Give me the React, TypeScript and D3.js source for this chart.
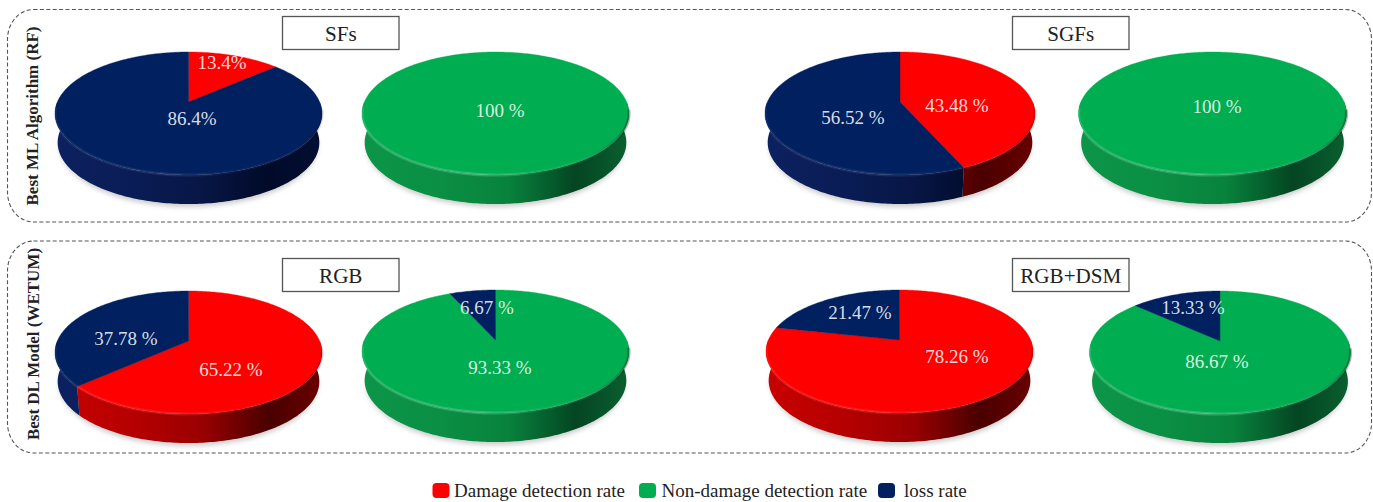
import React from "react";
import * as d3 from "d3";

// ---- values ----
const panelNames = ["SFs", "SGFs", "RGB", "RGB+DSM"];
const damageRates = [13.4, 43.48, 65.22, 78.26];
const damageLoss = [86.4, 56.52, 37.78, 21.47];
const nonDamageRates = [100, 100, 93.33, 86.67];
const nonDamageLoss = [0, 0, 6.67, 13.33];
const damageLabels = ["13.4%", "43.48 %", "65.22 %", "78.26 %"];
const damageLossLabels = ["86.4%", "56.52 %", "37.78 %", "21.47 %"];
const nonDamageLabels = ["100 %", "100 %", "93.33 %", "86.67 %"];
const nonDamageLossLabels = ["", "", "6.67 %", "13.33 %"];
const rowTitles = ["Best ML Algorithm (RF)", "Best DL Model (WETUM)"];
const legendNames = ["Damage detection rate", "Non-damage detection rate", "loss rate"];

// ---- palette ----
const seriesKeys = ["damage", "nonDamage", "loss"];
const topColor = d3.scaleOrdinal<string, string>().domain(seriesKeys).range(["#ff0000", "#00ad50", "#002060"]);
const lipStrength = d3.scaleOrdinal<string, number>().domain(seriesKeys).range([0.5, 1, 0.45]);
const wallStops: Record<string, string[]> = {
  damage: ["#c80000", "#b50000", "#9a0000", "#4a0000", "#6a0000"],
  nonDamage: ["#0c9548", "#0a8f44", "#08823d", "#044522", "#0a6030"],
  loss: ["#0c2160", "#0a1c55", "#071645", "#010a28", "#030f33"],
};

// ---- layout ----
const W = 1373;
const H = 502;
const FONT = "'Liberation Serif', 'Times New Roman', serif";
// Each disc: apex position and half-width of the projected top face.
const discLayout = [
  { cx: 188.5, cy: 102, rx: 133.5 },
  { cx: 495.5, cy: 102, rx: 133.5 },
  { cx: 900, cy: 102, rx: 135 },
  { cx: 1212.5, cy: 102, rx: 134 },
  { cx: 188.5, cy: 341, rx: 133.5 },
  { cx: 495.5, cy: 340, rx: 133.5 },
  { cx: 899.5, cy: 340, rx: 133.5 },
  { cx: 1220, cy: 341, rx: 130.5 },
];
const TILT = 0.187;
const DEPTH_A = 59.35;
const WALL = 29;
const WALL_SHRINK = 0.98;

const frames = [
  { x: 7.5, y: 9.5, w: 1364, h: 212.5 },
  { x: 7.5, y: 241, w: 1364, h: 212 },
];
const titleBoxes = [
  { x: 282.5, y: 16.5 },
  { x: 1012.5, y: 16.5 },
  { x: 282.5, y: 258.5 },
  { x: 1012.5, y: 258.5 },
];
const rowTitleSpots = [
  { x: 37.5, y: 116 },
  { x: 38.5, y: 344 },
];
const labelSpots: [number, number][][] = [
  [[222, 69], [192, 125]],
  [[500, 117], [0, 0]],
  [[957, 112], [853, 124]],
  [[1217, 113], [0, 0]],
  [[231, 376], [126, 345]],
  [[500, 374], [487, 314]],
  [[957, 363], [860, 319]],
  [[1217, 368], [1193, 314]],
];
const legendSpots = [
  { sx: 432.5, tx: 454 },
  { sx: 639, tx: 661.5 },
  { sx: 878, tx: 904 },
];

// ---- geometry helpers ----
type Pt = [number, number];
const rimPoint = (a: number, d: { cx: number; cy: number; rx: number }): Pt => {
  const u = Math.sin(a);
  const v = Math.cos(a);
  const k = d.rx * Math.sqrt(1 - TILT * TILT);
  const w = 1 + TILT * v;
  return [d.cx + (k * u) / w, d.cy - (DEPTH_A * v) / w];
};
const rimSamples = (a0: number, a1: number) => {
  const n = Math.max(2, Math.ceil((a1 - a0) / (Math.PI / 180)));
  return d3.range(n + 1).map((i) => a0 + ((a1 - a0) * i) / n);
};
const closedLine = d3.line<Pt>().curve(d3.curveLinearClosed);
const openLine = d3.line<Pt>();
const pieLayout = d3
  .pie<{ key: string; value: number }>()
  .sort(null)
  .value((d) => d.value);

type Slice = { key: string; value: number };
const discValues: Slice[][] = [];
const discLabels: string[][] = [];
panelNames.forEach((_, i) => {
  discValues.push([
    { key: "damage", value: damageRates[i] },
    { key: "loss", value: damageLoss[i] },
  ]);
  discValues.push([
    { key: "nonDamage", value: nonDamageRates[i] },
    { key: "loss", value: nonDamageLoss[i] },
  ]);
  discLabels.push([damageLabels[i], damageLossLabels[i]]);
  discLabels.push([nonDamageLabels[i], nonDamageLossLabels[i]]);
});

function Disc({ index }: { index: number }) {
  const d = discLayout[index];
  const arcs = pieLayout(discValues[index]).filter((a) => a.value > 0);
  const frontY = rimPoint(Math.PI, d)[1];
  const backY = rimPoint(0, d)[1];
  const lower = (p: Pt): Pt => [d.cx + (p[0] - d.cx) * WALL_SHRINK, p[1] + WALL];
  return (
    <g>
      <defs>
        {seriesKeys.map((k) => (
          <linearGradient
            key={k}
            id={`wall-${index}-${k}`}
            gradientUnits="userSpaceOnUse"
            x1={d.cx - d.rx}
            x2={d.cx + d.rx}
            y1={0}
            y2={0}
          >
            {wallStops[k].map((c, s) => (
              <stop key={s} offset={[0, 0.3, 0.55, 0.8, 1][s]} stopColor={c} />
            ))}
          </linearGradient>
        ))}
        <linearGradient
          id={`bevel-${index}`}
          gradientUnits="userSpaceOnUse"
          x1={d.cx - d.rx}
          x2={d.cx + d.rx}
          y1={0}
          y2={0}
        >
          <stop offset={0} stopColor="#ffffff" stopOpacity={0.12} />
          <stop offset={0.45} stopColor="#ffffff" stopOpacity={0.2} />
          <stop offset={0.7} stopColor="#ffffff" stopOpacity={0.05} />
          <stop offset={1} stopColor="#000000" stopOpacity={0.28} />
        </linearGradient>
      </defs>

      {/* soft contact shadow under the disc */}
      <ellipse
        cx={d.cx}
        cy={(frontY + backY) / 2 + WALL + 3}
        rx={d.rx * 0.97}
        ry={(frontY - backY) / 2}
        fill="#000"
        opacity={0.2}
        filter="url(#discShadow)"
      />

      {/* outer wall, only the part facing the viewer */}
      {arcs.map((a, i) => {
        const from = Math.max(a.startAngle, Math.PI / 2);
        const to = Math.min(a.endAngle, (3 * Math.PI) / 2);
        if (to <= from) return null;
        const upper = rimSamples(from, to).map((t) => rimPoint(t, d));
        const poly = [...upper, ...upper.map(lower).reverse()];
        return <path key={i} d={closedLine(poly) ?? ""} fill={`url(#wall-${index}-${a.data.key})`} />;
      })}

      {/* top face */}
      {arcs.map((a, i) => {
        const rim = rimSamples(a.startAngle, a.endAngle).map((t) => rimPoint(t, d));
        const poly: Pt[] = [[d.cx, d.cy], ...rim];
        const c = topColor(a.data.key);
        return <path key={i} d={closedLine(poly) ?? ""} fill={c} stroke={c} strokeWidth={0.4} />;
      })}

      {/* rounded highlight along the front lip, weaker on the red and navy slices */}
      {arcs.map((a, i) => {
        const from = Math.max(a.startAngle, Math.PI * 0.54);
        const to = Math.min(a.endAngle, Math.PI * 1.47);
        if (to <= from) return null;
        return (
          <path
            key={i}
            d={openLine(rimSamples(from, to).map((t) => rimPoint(t, d))) ?? ""}
            fill="none"
            stroke={`url(#bevel-${index})`}
            strokeOpacity={lipStrength(a.data.key)}
            strokeWidth={3.2}
            filter="url(#lipSoft)"
          />
        );
      })}

      {arcs.map((a, i) => {
        const labelIndex = discValues[index].indexOf(a.data);
        const [lx, ly] = labelSpots[index][labelIndex];
        return (
          <text
            key={i}
            x={lx}
            y={ly}
            textAnchor="middle"
            fontFamily={FONT}
            fontSize={19}
            fill="#ffffff"
            fillOpacity={0.86}
          >
            {discLabels[index][labelIndex]}
          </text>
        );
      })}
    </g>
  );
}

export default function App() {
  return (
    <svg
      width={W}
      height={H}
      viewBox={`0 0 ${W} ${H}`}
      style={{ position: "absolute", left: 0, top: 0, display: "block", background: "#fff" }}
    >
      <defs>
        <filter id="discShadow" x="-10%" y="-20%" width="120%" height="140%">
          <feGaussianBlur stdDeviation="2.5" />
        </filter>
        <filter id="lipSoft" filterUnits="userSpaceOnUse" x="0" y="0" width={W} height={H}>
          <feGaussianBlur stdDeviation="0.7" />
        </filter>
      </defs>

      {frames.map((f, i) => (
        <rect
          key={i}
          x={f.x}
          y={f.y}
          width={f.w}
          height={f.h}
          rx={26}
          ry={30}
          fill="none"
          stroke="#555"
          strokeWidth={1.1}
          strokeDasharray="4 2.4"
        />
      ))}

      {discLayout.map((_, i) => (
        <Disc key={i} index={i} />
      ))}

      {panelNames.map((name, i) => (
        <g key={name}>
          <rect
            x={titleBoxes[i].x}
            y={titleBoxes[i].y}
            width={116.5}
            height={33}
            fill="#fff"
            stroke="#555"
            strokeWidth={1.3}
          />
          <text
            transform={`translate(${titleBoxes[i].x + 58.25},${titleBoxes[i].y + 24}) scale(0.96,1)`}
            textAnchor="middle"
            fontFamily={FONT}
            fontSize={22}
            fill="#222"
          >
            {name}
          </text>
        </g>
      ))}

      {rowTitles.map((t, i) => (
        <text
          key={t}
          transform={`translate(${rowTitleSpots[i].x},${rowTitleSpots[i].y}) rotate(-90)`}
          textAnchor="middle"
          fontFamily={FONT}
          fontWeight="bold"
          fontSize={17}
          fill="#222"
        >
          {t}
        </text>
      ))}

      {legendNames.map((name, i) => (
        <g key={name}>
          <rect
            x={legendSpots[i].sx}
            y={483}
            width={17}
            height={15}
            rx={4}
            fill={topColor(seriesKeys[i])}
          />
          <text x={legendSpots[i].tx} y={497} fontFamily={FONT} fontSize={19} fill="#222">
            {name}
          </text>
        </g>
      ))}
    </svg>
  );
}
